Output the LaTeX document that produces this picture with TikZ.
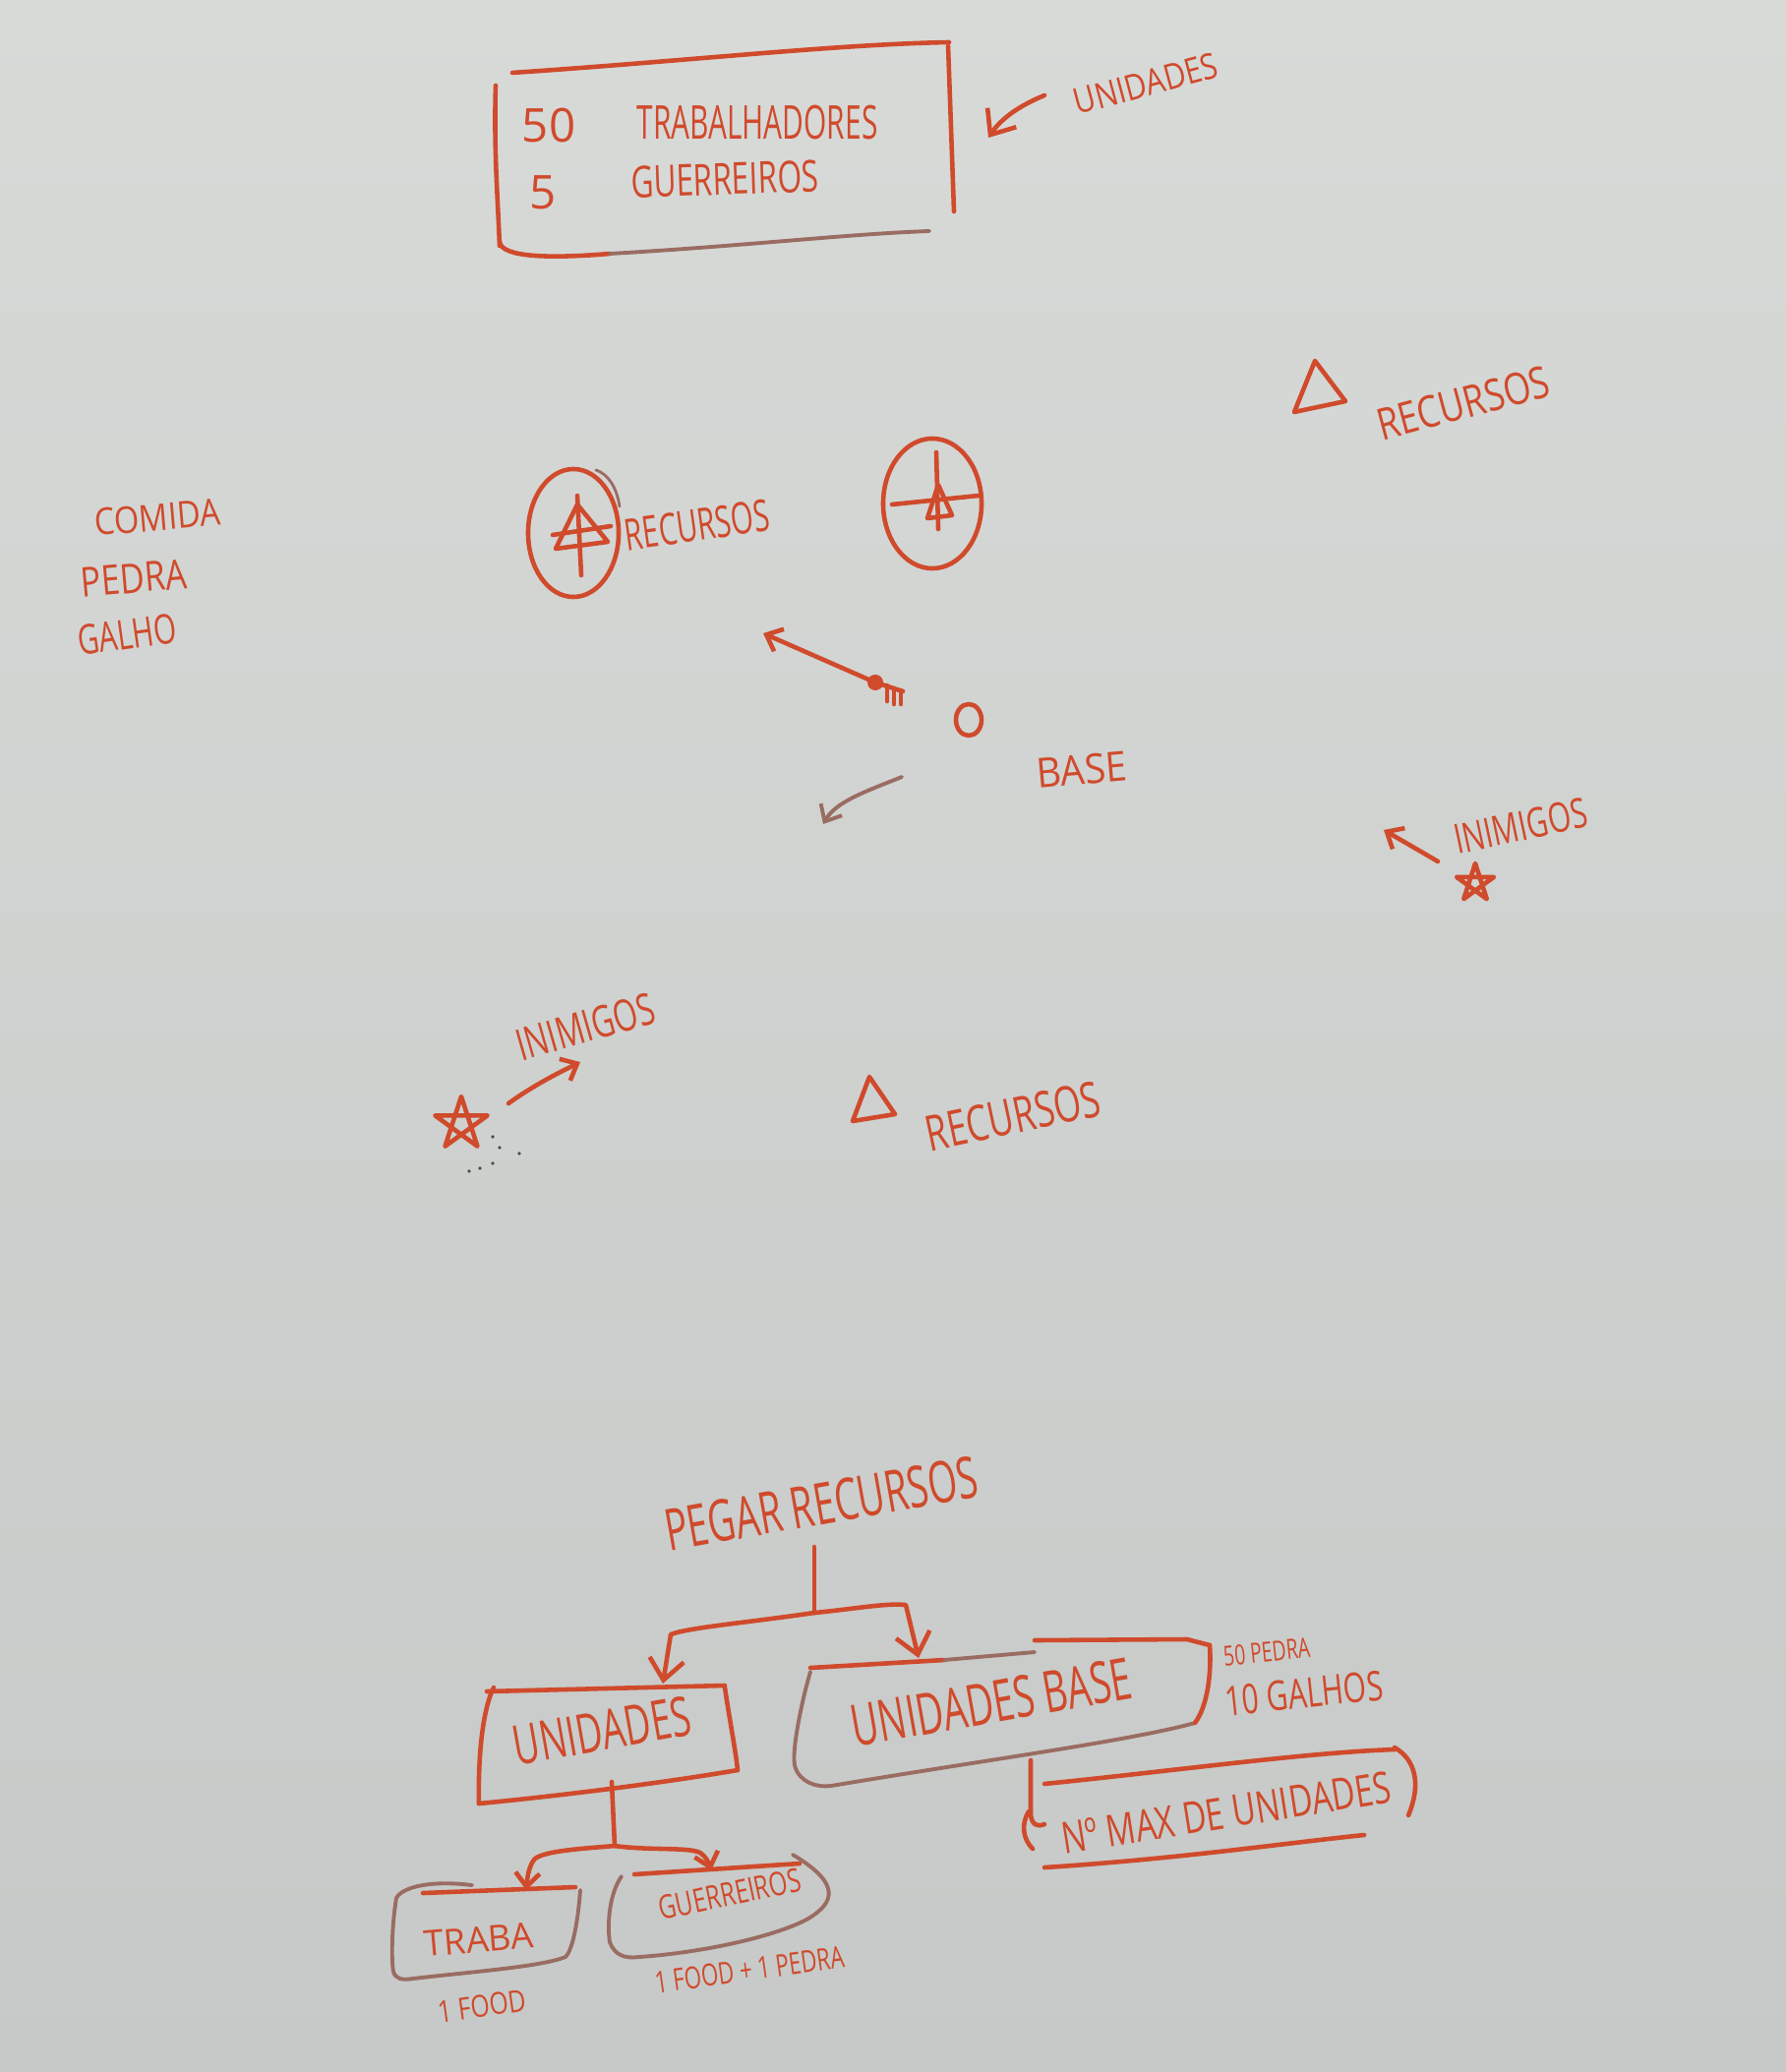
\documentclass[tikz,border=0pt]{standalone}
\usepackage{fontspec}
\setmainfont{Open Sans}
\usepackage{graphicx}
\usetikzlibrary{arrows.meta}
\definecolor{mk}{HTML}{D04A2C}
\definecolor{mkgray}{HTML}{9A6C62}
\definecolor{bgtop}{HTML}{D8DAD8}
\definecolor{bgbot}{HTML}{C6C9C7}
\newcommand{\hw}[3]{\fontsize{#1}{#1}\selectfont\scalebox{#2}[1]{#3}}
\begin{document}
\begin{tikzpicture}[x=0.01cm,y=-0.01cm,
  ink/.style={draw=mk,line width=1.3pt,line cap=round,line join=round},
  faint/.style={draw=mkgray,line width=1.1pt,line cap=round,line join=round},
  lbl/.style={text=mk,inner sep=0pt,anchor=center},
  tip/.style={-{Straight Barb[length=6pt,width=10pt]}},
  smalltip/.style={-{Straight Barb[length=4pt,width=7pt]}},
]
\useasboundingbox (0,0) rectangle (1816,2107);
\shade[top color=bgtop,bottom color=bgbot] (0,0) rectangle (1816,2107);

% ---------- top box of units ----------
\draw[ink] (521,74) .. controls (700,62) and (850,45) .. (965,43);
\draw[ink] (504,87) .. controls (502,150) and (506,200) .. (508,250);
\draw[ink] (508,246) .. controls (510,262) and (560,263) .. (620,258);
\draw[faint] (620,258) .. controls (760,250) and (860,238) .. (945,235);
\draw[ink] (964,47) .. controls (966,100) and (968,160) .. (970,215);
\node[lbl] (n50) at (558,128) {\hw{13.5pt}{1}{50}};
\node[lbl] (trab) at (770,125) {\hw{13.5pt}{0.63}{TRABALHADORES}};
\node[lbl] (n5) at (552,196) {\hw{13.5pt}{1}{5}};
\node[lbl,rotate=2] (guer) at (737,182) {\hw{12.7pt}{0.71}{GUERREIROS}};
\node[lbl,rotate=15] (unidtop) at (1165,85) {\hw{10.3pt}{0.84}{UNIDADES}};
\coordinate (boxR) at (1005,140);
\coordinate (uA) at (1062,97);
\draw[ink,tip] (uA) .. controls (1030,110) and (1015,125) .. (boxR);

% ---------- resources (top right) ----------
\draw[ink] (1337,367) -- (1316,419) -- (1368,408) -- cycle;
\node[lbl,rotate=15] (rec1) at (1488,410) {\hw{12.7pt}{0.8}{RECURSOS}};

% ---------- list ----------
\node[lbl,rotate=5] (comida) at (160,526) {\hw{10.7pt}{0.87}{COMIDA}};
\node[lbl,rotate=5] (pedra) at (136,588) {\hw{11.9pt}{0.82}{PEDRA}};
\node[lbl,rotate=8] (galho) at (129,645) {\hw{11.9pt}{0.71}{GALHO}};

% ---------- circled resource 1 ----------
\draw[ink] (583,542) ellipse [x radius=0.46cm, y radius=0.65cm];
\draw[faint,line width=0.8pt] (606,478) .. controls (618,482) and (627,495) .. (630,515);
\draw[ink] (587,513) -- (565,558) -- (618,551) -- cycle;
\draw[ink] (587,504) -- (591,585);
\draw[ink] (562,544) -- (621,535);
\node[lbl,rotate=8] (rec2) at (709,534) {\hw{12.7pt}{0.66}{RECURSOS}};

% ---------- circled resource 2 ----------
\draw[ink] (948,512) ellipse [x radius=0.5cm, y radius=0.66cm];
\draw[ink] (952,460) -- (954,538);
\draw[ink] (907,513) -- (995,504);
\draw[ink] (954,493) -- (943,527) -- (968,524) -- cycle;

% ---------- unit with arrow ----------
\coordinate (unitdot) at (890,694);
\coordinate (unitgo) at (776,644);
\fill[mk] (unitdot) circle (0.08cm);
\draw[ink,smalltip] (unitdot) -- (unitgo);
\draw[ink] (unitdot) -- (918,703);
\draw[ink] (902,697) -- (902,713);
\draw[ink] (909,700) -- (909,716);
\draw[ink] (916,702) -- (916,716);

% ---------- base ----------
\draw[ink] (985,732) ellipse [x radius=0.13cm, y radius=0.16cm];
\node[lbl,rotate=5] (base) at (1100,783) {\hw{11.9pt}{0.93}{BASE}};
\coordinate (cA) at (917,790);
\coordinate (cB) at (837,838);
\draw[faint,smalltip] (cA) .. controls (880,805) and (850,815) .. (cB);

% ---------- enemies (right) ----------
\node[lbl,rotate=12] (inim1) at (1546,840) {\hw{11.9pt}{0.72}{INIMIGOS}};
\coordinate (eA) at (1462,876);
\coordinate (eB) at (1407,844);
\draw[ink,smalltip] (eA) -- (eB);
\draw[ink] ([shift={(1500,898)}]-90:20) -- ([shift={(1500,898)}]54:20) -- ([shift={(1500,898)}]198:20) -- ([shift={(1500,898)}]342:20) -- ([shift={(1500,898)}]126:20) -- cycle;

% ---------- enemies (lower left) ----------
\node[lbl,rotate=16] (inim2) at (595,1044) {\hw{12.7pt}{0.71}{INIMIGOS}};
\coordinate (fA) at (517,1122);
\coordinate (fB) at (590,1080);
\draw[ink,smalltip] (fA) .. controls (545,1102) and (570,1090) .. (fB);
\draw[ink] ([shift={(469,1143)}]-90:28) -- ([shift={(469,1143)}]54:28) -- ([shift={(469,1143)}]198:28) -- ([shift={(469,1143)}]342:28) -- ([shift={(469,1143)}]126:28) -- cycle;
\foreach \p in {(501,1156),(508,1167),(528,1173),(477,1191),(488,1188),(501,1183)}
  \fill[black!70] \p circle (0.018cm);

% ---------- resources (middle) ----------
\draw[ink] (884,1095) -- (867,1140) -- (910,1133) -- cycle;
\node[lbl,rotate=12] (rec3) at (1030,1135) {\hw{14.3pt}{0.71}{RECURSOS}};

% ---------- bottom tree ----------
\node[lbl,rotate=10] (pegar) at (835,1529) {\hw{16.7pt}{0.65}{PEGAR RECURSOS}};
\coordinate (t0) at (828,1573);
\coordinate (tj) at (828,1640);
\coordinate (tuL) at (674,1712);
\coordinate (tuR) at (934,1686);
\draw[ink] (t0) -- (tj);
\draw[ink,tip] (tj) .. controls (760,1650) and (700,1655) .. (682,1662) -- (tuL);
\draw[ink,tip] (tj) .. controls (870,1636) and (900,1630) .. (921,1632) -- (tuR);

% UNIDADES box
\draw[ink] (495,1720) -- (737,1714);
\draw[ink] (502,1716) .. controls (490,1740) and (486,1790) .. (487,1834);
\draw[ink] (487,1834) .. controls (580,1825) and (680,1812) .. (750,1800);
\draw[ink] (737,1716) .. controls (742,1750) and (748,1780) .. (750,1800);
\node[lbl,rotate=10] (unid) at (612,1760) {\hw{15.9pt}{0.66}{UNIDADES}};

% UNIDADES BASE box
\draw[ink] (824,1696) -- (960,1688);
\draw[faint] (960,1688) -- (1052,1680);
\draw[ink] (1052,1668) -- (1207,1667) -- (1230,1673);
\draw[faint] (824,1700) .. controls (815,1730) and (805,1780) .. (808,1795) .. controls (812,1812) and (830,1818) .. (845,1816);
\draw[faint] (845,1816) .. controls (1000,1790) and (1150,1770) .. (1215,1752);
\draw[ink] (1230,1673) .. controls (1232,1700) and (1228,1735) .. (1215,1752);
\node[lbl,rotate=10] (ubase) at (1008,1731) {\hw{16.7pt}{0.65}{UNIDADES BASE}};
\node[lbl,rotate=6] (n50p) at (1288,1680) {\hw{8pt}{0.69}{50 PEDRA}};
\node[lbl,rotate=6] (n10g) at (1326,1722) {\hw{11.9pt}{0.72}{10 GALHOS}};

% Nº MAX bracket
\coordinate (bA) at (1048,1790);
\coordinate (bB) at (1062,1855);
\draw[ink] (bA) -- (1048,1845) .. controls (1049,1856) and (1055,1858) .. (bB);
\draw[ink] (1062,1814) .. controls (1200,1800) and (1330,1782) .. (1418,1779);
\draw[ink] (1418,1777) .. controls (1440,1790) and (1445,1815) .. (1432,1846);
\draw[ink] (1046,1842) .. controls (1038,1855) and (1040,1870) .. (1050,1880);
\draw[ink] (1062,1899) .. controls (1200,1890) and (1300,1875) .. (1387,1866);
\node[lbl,rotate=9] (nmax) at (1247,1843) {\hw{12.7pt}{0.74}{Nº MAX DE UNIDADES}};

% sub-tree under UNIDADES
\coordinate (s0) at (622,1812);
\coordinate (sj) at (625,1877);
\coordinate (sL) at (535,1922);
\coordinate (sR) at (723,1902);
\draw[ink] (s0) -- (sj);
\draw[ink,smalltip] (sj) .. controls (590,1880) and (555,1882) .. (544,1890) .. controls (538,1896) and (536,1910) .. (sL);
\draw[ink,smalltip] (sj) .. controls (660,1882) and (700,1878) .. (712,1884) .. controls (718,1888) and (721,1895) .. (sR);

% TRABA box
\draw[ink] (430,1925) -- (585,1919);
\draw[faint] (480,1917) .. controls (440,1912) and (410,1918) .. (403,1930) .. controls (398,1960) and (398,1995) .. (400,2005) .. controls (402,2012) and (408,2014) .. (420,2012);
\draw[faint] (420,2012) .. controls (480,2005) and (550,2000) .. (575,1990) .. controls (583,1982) and (588,1950) .. (590,1922);
\node[lbl,rotate=5] (traba) at (487,1972) {\hw{10.3pt}{1}{TRABA}};
\node[lbl,rotate=8] (food1) at (490,2040) {\hw{8.8pt}{0.8}{1 FOOD}};

% GUERREIROS box
\draw[ink] (645,1906) -- (813,1895);
\draw[faint] (632,1908) .. controls (620,1925) and (617,1955) .. (620,1975) .. controls (625,1988) and (635,1992) .. (650,1990);
\draw[faint] (650,1990) .. controls (720,1985) and (790,1968) .. (820,1952) .. controls (850,1935) and (855,1915) .. (806,1886);
\node[lbl,rotate=12] (guer2) at (742,1926) {\hw{9.5pt}{0.73}{GUERREIROS}};
\node[lbl,rotate=8] (food2) at (762,2003) {\hw{8.8pt}{0.72}{1 FOOD + 1 PEDRA}};
\end{tikzpicture}
\end{document}
